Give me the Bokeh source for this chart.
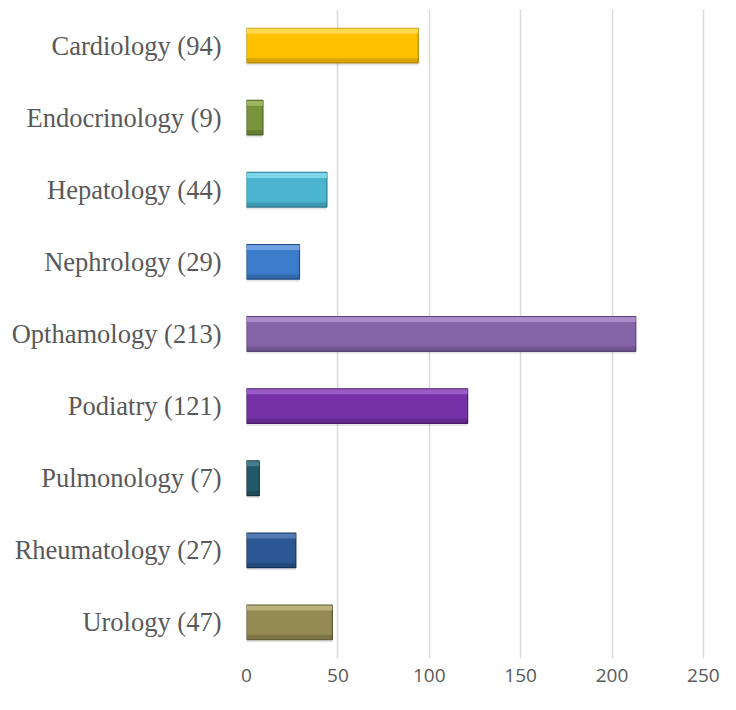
from bokeh.plotting import figure
from bokeh.models import ColumnDataSource, Range1d, FixedTicker, FactorRange
from bokeh.transform import dodge
from bokeh.embed import file_html
from bokeh.resources import INLINE

# ---- data ----
departments = ["Cardiology", "Endocrinology", "Hepatology", "Nephrology", "Opthamology",
               "Podiatry", "Pulmonology", "Rheumatology", "Urology"]
counts = [94, 9, 44, 29, 213, 121, 7, 27, 47]
x_ticks = [0, 50, 100, 150, 200, 250]

# ---- styles ----
fills = ["#FFC000", "#77933C", "#4BB4CF", "#3C7DCB", "#8565A8",
         "#7532A6", "#215967", "#2B5793", "#948A54"]
edges = ["#B88A00", "#4F6228", "#2C7D93", "#254F88", "#5A4379",
         "#4B1F6E", "#12343D", "#17335A", "#5E5733"]
highlights = ["#FFE066", "#A8C46A", "#8EE0F2", "#7FAEE8", "#B79AD6",
              "#A56AD0", "#4F8A9A", "#5F86BE", "#C7BE88"]

labels = [f"{d} ({c})" for d, c in zip(departments, counts)]
src = ColumnDataSource(dict(label=labels, count=counts, fill=fills, edge=edges, hl=highlights))

p = figure(width=720, height=694, output_backend="svg", toolbar_location=None,
           y_range=FactorRange(factors=labels[::-1]), x_range=Range1d(0, 250.6))
p.min_border_left = 246
p.min_border_right = 16
p.min_border_top = 9
p.min_border_bottom = 36
p.outline_line_color = None
p.background_fill_color = "white"
p.border_fill_color = "white"

# shadow
p.hbar(y=dodge("label", -0.035, range=p.y_range), left=0, right="count", height=0.48,
       fill_color="black", fill_alpha=0.10, line_color=None, source=src)
# main bar
p.hbar(y="label", left=0, right="count", height=0.48, fill_color="fill",
       line_color="edge", line_width=1.2, source=src)
# top highlight
p.hbar(y=dodge("label", 0.2, range=p.y_range), left=0, right="count", height=0.07,
       fill_color="hl", fill_alpha=0.75, line_color=None, source=src)
# bottom shade
p.hbar(y=dodge("label", -0.205, range=p.y_range), left=0, right="count", height=0.06,
       fill_color="black", fill_alpha=0.15, line_color=None, source=src)

p.xaxis.ticker = FixedTicker(ticks=x_ticks)
p.xgrid.grid_line_color = "#D9D9D9"
p.xgrid.grid_line_width = 1.5
p.ygrid.grid_line_color = None

for ax in (p.xaxis[0], p.yaxis[0]):
    ax.axis_line_color = None
    ax.major_tick_line_color = None
    ax.minor_tick_line_color = None
    ax.major_label_text_color = "#595959"

p.xaxis.major_label_text_font = "Open Sans"
p.xaxis.major_label_text_font_size = "19px"
p.xaxis.major_label_standoff = 4
p.yaxis.major_label_text_font = "Liberation Serif"
p.yaxis.major_label_text_font_size = "26.5px"
p.yaxis.major_label_standoff = 19

open("out.html", "w").write(file_html(p, INLINE))
